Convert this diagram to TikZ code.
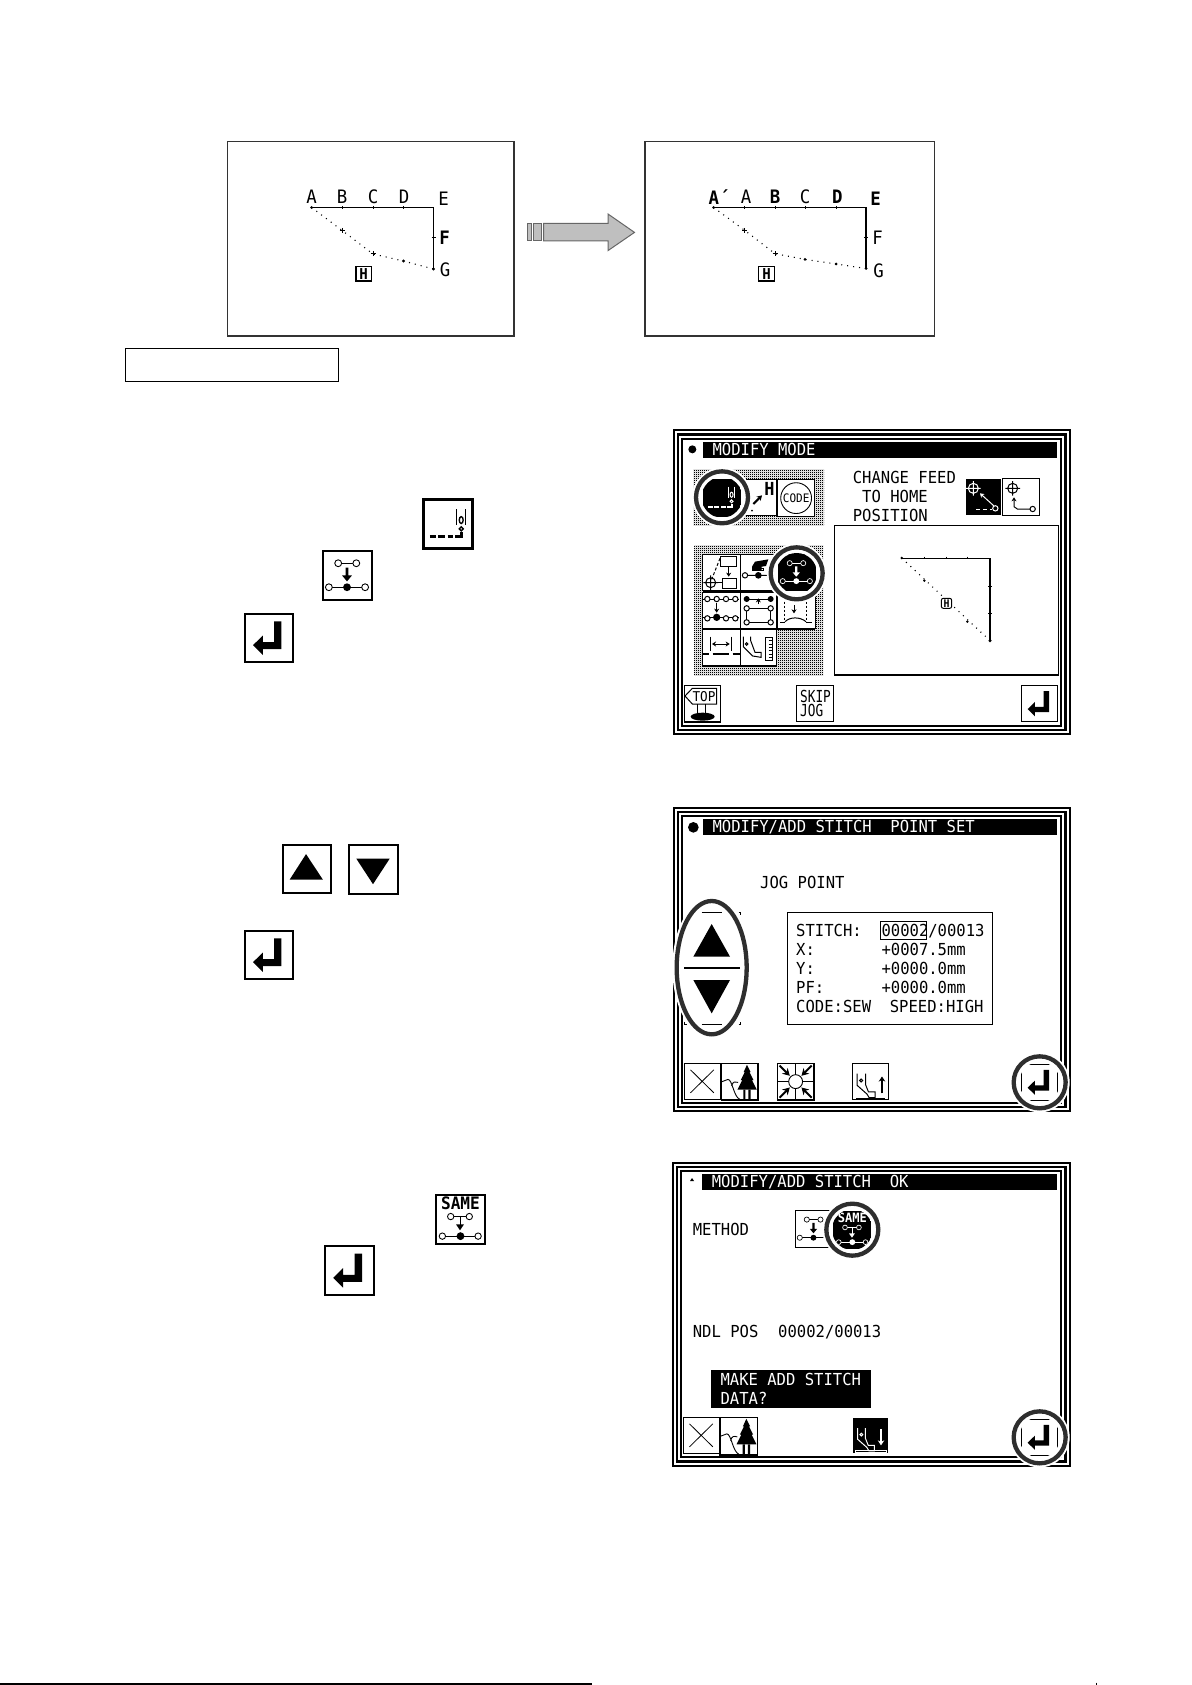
\documentclass[tikz,border=0pt]{standalone}
\usepackage{fontspec}
\newfontfamily\lcd[FakeStretch=0.94]{DejaVu Sans Mono}
\newfontfamily\lcdn[FakeStretch=0.77]{DejaVu Sans Mono}
\usetikzlibrary{arrows.meta,patterns}
\pgfdeclarepatternformonly{dith}{\pgfpointorigin}{\pgfqpoint{2pt}{2pt}}{\pgfqpoint{2pt}{2pt}}{%
 \pgfpathrectangle{\pgfpointorigin}{\pgfqpoint{1.12pt}{1.12pt}}%
 \pgfpathrectangle{\pgfqpoint{1pt}{1pt}}{\pgfqpoint{1.12pt}{1.12pt}}%
 \pgfusepath{fill}}
\tikzset{
 lcdtxt/.style={inner sep=0pt,anchor=base west,font=\lcd\fontsize{16.55}{18}\selectfont},
 lab/.style={inner sep=0pt,anchor=center,font=\lcd\fontsize{18.5}{20}\selectfont},
 labb/.style={inner sep=0pt,anchor=center,font=\lcd\bfseries\fontsize{18.5}{20}\selectfont},
 ln/.style={line width=1pt},
 ln2/.style={line width=1.6pt},
 ring/.style={line width=4.3pt,draw=black!82},
 dotpath/.style={line width=1.1pt,dash pattern=on 1pt off 5pt},
 dith/.style={pattern=dith,pattern color=black},
 arr/.style={-{Stealth[length=4pt,width=5pt]}},
 arrb/.style={-{Stealth[length=5pt,width=6.5pt]},line width=1.8pt},
 arrc/.style={-{Stealth[length=7pt,width=8pt]},line width=2pt},
}
\newcommand\LT[5][]{\node[lcdtxt,#1] (#2) at (#3,#4) {#5};}
% button: x y size lw fg bg glyph
\newcommand\Btn[7]{%
 \begin{scope}[shift={(#1,#2)},x=#3*0.01pt,y=-#3*0.01pt]
 \colorlet{fg}{#5}\colorlet{bg}{#6}
 \pgfmathsetmacro\ul{#3/50}
 \fill[bg] (0,0) rectangle (100,100);
 \ifdim #4pt>0pt \draw[black,line width=#4pt] (0,0) rectangle (100,100);\fi
 #7
 \end{scope}}
% circled button: cx cy boxx boxy size fg bg glyph
\newcommand\CBtn[8]{%
 \fill[white] (#1,#2) circle[radius=90];
 \begin{scope}\clip (#1,#2) circle[radius=61];
 \Btn{#3}{#4}{#5}{1.2}{#6}{#7}{#8}
 \end{scope}
 \draw[ring] (#1,#2) circle[radius=78];}
\newcommand\GEnter{\fill[fg] (60.7,15.3)--(76,15.3)--(76,73.3)--(37,73.3)--(37,85)--(16.7,65)--(37,45)--(37,58.7)--(60.7,58.7)--cycle;}
\newcommand\GNeedle{%
 \draw[fg,line width=2.7*\ul*1pt] (13,75)--(25,75) (30,75)--(44,75) (49,75)--(61,75) (65,75)--(77,75)--(77,66);
 \draw[fg,line width=1.4*\ul*1pt] (68,20)--(68,52) (86,20)--(86,52);
 \draw[fg,line width=1.4*\ul*1pt] (77,42) ellipse[x radius=4,y radius=7] (77,60) circle[radius=4];}
\newcommand\GAdd{%
 \draw[fg,line width=\ul*0.9pt] (31,25)--(68,25) (12,74)--(86,74);
 \fill[bg] (31,25) circle[radius=7] (68,25) circle[radius=7] (12,74) circle[radius=7] (86,74) circle[radius=7];
 \draw[fg,line width=\ul*0.9pt] (31,25) circle[radius=7] (68,25) circle[radius=7] (12,74) circle[radius=7] (86,74) circle[radius=7];
 \fill[fg] (49,74) circle[radius=8];
 \fill[fg] (46,34)--(52,34)--(52,50)--(59,50)--(49,62)--(39,50)--(46,50)--cycle;}
\newcommand\GSame{%
 \pgfmathsetmacro\fsz{17.5*\ul}
 \node[inner sep=0pt,text=fg,font=\lcd\bfseries\fontsize{\fsz pt}{\fsz pt}\selectfont] (samelabel) at (50,17) {SAME};
 \draw[fg,line width=\ul*0.9pt] (30,44)--(68,44) (13,84)--(86,84) (49,44)--(49,62);
 \fill[bg] (30,44) circle[radius=6.5] (68,44) circle[radius=6.5] (13,84) circle[radius=6.5] (86,84) circle[radius=6.5];
 \draw[fg,line width=\ul*0.9pt] (30,44) circle[radius=6.5] (68,44) circle[radius=6.5] (13,84) circle[radius=6.5] (86,84) circle[radius=6.5];
 \fill[fg] (50,84) circle[radius=8];
 \fill[fg] (41,60)--(57,60)--(49,72)--cycle;}
\newcommand\GUp{\fill[fg] (48,19)--(83,72)--(14,72)--cycle;}
\newcommand\GDown{\fill[fg] (15,28)--(83,28)--(49,80)--cycle;}
\newcommand\GX{\draw[fg,line width=0.8pt] (17,18)--(82,82) (82,18)--(17,82);}
\newcommand\GTree{%
 \fill[fg] (70,4)--(80,24)--(77,24)--(88,46)--(84,46)--(97,72)--(44,72)--(57,46)--(53,46)--(64,24)--(61,24)--cycle;
 \fill[fg] (60,72) rectangle (66,100) (74,72) rectangle (80,100);
 \draw[fg,line width=0.9pt] (2,50)--(18,44) .. controls (30,44) and (34,92) .. (50,98) (28,62) .. controls (32,48) and (38,50) .. (46,52);}
\newcommand\GConv{%
 \draw[fg,line width=0.9pt] (50,0)--(50,100) (0,50)--(100,50);
 \fill[bg] (50,50) circle[radius=19];
 \draw[fg,line width=0.9pt] (50,50) circle[radius=19];
 \draw[fg,arrc] (6,6)--(34,34);
 \draw[fg,arrc] (94,6)--(66,34);
 \draw[fg,arrc] (6,94)--(34,66);
 \draw[fg,arrc] (94,94)--(66,66);}
\newcommand\GFoot{%
 \draw[fg,line width=1pt] (13,28)--(13,60)--(40,84)--(46,94)--(62,94)--(62,78)--(44,78)--(36,58)--(36,28);
 \draw[fg,line width=1pt] (24,47) circle[radius=4];}
\newcommand\GFootUp{\GFoot
 \fill[fg] (10,94) rectangle (90,100);
 \draw[fg,arrb] (81,82)--(81,36);}
\newcommand\GFootDown{\GFoot
 \draw[fg,line width=0.9pt] (6,92) rectangle (96,98);
 \draw[fg,arrb] (81,32)--(81,78);}
\newcommand\Frame[4]{%
 \fill[black] (#1,#2) rectangle (#3,#4);
 \fill[white] (#1+6,#2+6) rectangle (#3-6,#4-6);
 \fill[black] (#1+12,#2+12) rectangle (#3-12,#4-12);
 \fill[white] (#1+19,#2+19) rectangle (#3-19,#4-19);
 \fill[black] (#1+25,#2+25) rectangle (#3-25,#4-25);
 \fill[white] (#1+31,#2+31) rectangle (#3-31,#4-31);}
\newcommand\Cross[2]{%
 \draw[ln] (#1,#2) circle[radius=15] (#1-22,#2)--(#1+22,#2) (#1,#2-22)--(#1,#2+22);}
\begin{document}
\begin{tikzpicture}[x=1pt,y=-1pt]
\useasboundingbox (0,0) rectangle (1191,1685);
\fill[white] (0,0) rectangle (1191,1685);
% --- top figure, left
\draw[line width=1.3pt,black!80] (227.5,141.5) rectangle (514,336);
\draw[line width=1.5pt] (311.6,207.5)--(433.5,207.5)--(433.5,269);
\draw[ln] (342,206)--(342,209.5) (373,206)--(373,209.5) (403.4,206)--(403.4,209.5) (431.5,238)--(435.5,238);
\draw[dotpath] (311.6,207.5)--(342,230.4)--(373,254)--(403.4,261)--(433.5,269);
\draw[ln] (339.5,230.4)--(344.5,230.4) (342,228)--(342,233) (370.5,254)--(375.5,254) (373,251.5)--(373,256.5);
\fill (403.4,261) circle[radius=1.6] (433.5,269) circle[radius=1.6] (311.6,207.5) circle[radius=1.6];
\node[lab] (la) at (311.6,197) {A};
\node[lab] (lb) at (342,197) {B};
\node[lab] (lc) at (373,197) {C};
\node[lab] (ld) at (404,197) {D};
\node[lab] (le) at (443.7,199) {E};
\node[labb] (lf) at (444.7,238) {F};
\node[lab] (lg) at (445,269.5) {G};
\draw[line width=1.4pt] (356,266.5) rectangle (371.5,281);
\node[inner sep=0pt,font=\lcd\bfseries\fontsize{15}{15}\selectfont] (lh) at (363.7,273.7) {H};
% --- top figure, right
\draw[line width=1.3pt,black!80] (645,141.5) rectangle (934.5,336);
\draw[line width=1.5pt] (713.6,207.5)--(866,207.5)--(866,268.5);
\draw[ln] (744.7,206)--(744.7,209.5) (775,206)--(775,209.5) (805,206)--(805,209.5) (836,206)--(836,209.5) (864,238)--(868,238);
\draw[dotpath] (713.6,207.5)--(744.7,230.4)--(775,253.7)--(805,259.4)--(836,264)--(866,268.5);
\draw[ln] (742.2,230.4)--(747.2,230.4) (744.7,228)--(744.7,233) (772.5,253.7)--(777.5,253.7) (775,251.2)--(775,256.2);
\fill (805,259.4) circle[radius=1.5] (836,264) circle[radius=1.5] (866,268.5) circle[radius=1.5] (713.6,207.5) circle[radius=1.5];
\node[labb,anchor=center] (ra) at (719,197) {A´};
\node[lab] (ra2) at (746,197) {A};
\node[labb] (rb) at (775,197) {B};
\node[lab] (rc) at (805,197) {C};
\node[labb] (rd) at (837.4,197) {D};
\node[labb] (re) at (875.7,198.5) {E};
\node[lab] (rf) at (877.7,238) {F};
\node[lab] (rg) at (878.6,270.5) {G};
\draw[line width=1.4pt] (758.5,266.5) rectangle (774.5,281);
\node[inner sep=0pt,font=\lcd\bfseries\fontsize{15}{15}\selectfont] (rh) at (766.5,273.7) {H};
% big arrow
\draw[black!60,fill=black!25,line width=1pt] (543.5,223.5)--(608,223.5)--(608,214)--(634.5,232.4)--(608,250.6)--(608,241)--(543.5,241)--cycle;
\draw[black!60,fill=black!25,line width=1pt] (527.7,223.5) rectangle (531,241) (533.8,223.5) rectangle (541,241);
% empty caption box
\draw[ln] (125,348.5) rectangle (338.5,381.5);
% --- side icons
\Btn{423.5}{499.5}{49}{2.4}{black}{white}{\GNeedle}
\Btn{323}{551}{49}{2.4}{black}{white}{\GAdd}
\Btn{245}{614}{48}{2.4}{black}{white}{\GEnter}
\Btn{283}{845}{48}{2.4}{black}{white}{\GUp}
\Btn{349}{845}{49}{2.4}{black}{white}{\GDown}
\Btn{245}{931}{48}{2.4}{black}{white}{\GEnter}
\Btn{436}{1195}{49}{2.4}{black}{white}{\GSame}
\Btn{325}{1246}{49}{2.4}{black}{white}{\GEnter}
% --- screen 1
\begin{scope}[shift={(660,420)},x=.33333pt,y=-.33333pt]
\Frame{38}{28}{1232}{945}
\fill (130,67) rectangle (1192,115);
\fill (97,88) circle[radius=12];
\LT[text=white]{s1t}{157}{107}{MODIFY~MODE}
\LT{s1a}{578}{190}{CHANGE~FEED}
\LT{s1b}{606}{247}{TO~HOME}
\LT{s1c}{578}{304}{POSITION}
% panels
\fill[dith] (100,148) rectangle (492,315);
\fill[dith] (102,376) rectangle (490,767);
% top row
\Btn{242}{178}{36.3}{1}{black}{white}{}
\draw[black,line width=2pt,-{Stealth[length=5pt,width=6pt]}] (280,252)--(306,226);
\node[inner sep=0pt,font=\lcd\bfseries\fontsize{18}{18}\selectfont] (s1h) at (328,208) {H};
\fill (276,272) circle[radius=3];
\Btn{352}{178}{37.6}{1}{black}{white}{%
 \draw[fg,line width=0.9pt] (50,50) circle[radius=41];
 \node[inner sep=0pt,font=\lcd\fontsize{11.7}{11}\selectfont] (s1code) at (50,50) {CODE};}
\CBtn{186}{232}{130}{178}{36.67}{white}{black}{\GNeedle}
% feed icons
\fill (918,178) rectangle (1023,285);
\begin{scope}[white]
\Cross{940}{205}
\draw[arr,ln] (1002,258)--(960,220);
\draw[ln,dash pattern=on 4pt off 3pt] (948,267)--(996,267);
\draw[ln] (1006,265) circle[radius=8];
\end{scope}
\draw[ln,fill=white] (1027,176) rectangle (1138,287);
\Cross{1058}{205}
\draw[ln,arr] (1110,267)--(1072,267)--(1062,260)--(1062,232);
\draw[ln] (1118,267) circle[radius=8];
% preview
\draw[ln,fill=white] (523,316) rectangle (1195,765);
\draw[line width=1.7pt] (523,765)--(1195,765);
\draw[ln] (725,414)--(990,414);
\draw[line width=1.5pt] (990,414)--(990,662);
\draw[ln] (793,410)--(793,418) (858,410)--(858,418) (922,410)--(922,418) (985,498)--(995,498) (985,580)--(995,580);
\draw[dotpath] (725,414)--(990,662);
\fill (725,414) circle[radius=4] (793,482) circle[radius=4] (922,605) circle[radius=4] (990,662) circle[radius=5];
\draw[ln,rounded corners=2pt,fill=white] (844,535) rectangle (875,565);
\node[inner sep=0pt,font=\lcd\bfseries\fontsize{10.5}{10}\selectfont] (s1hh) at (859.5,550) {H};
% grid buttons
\draw[ln,fill=white] (128,402) rectangle (240,512);
\draw[ln,fill=white] (242,402) rectangle (350,512);
\draw[ln,fill=white] (128,516) rectangle (240,625);
\draw[ln,fill=white] (242,516) rectangle (350,625);
\draw[ln,fill=white] (352,516) rectangle (465,625);
\draw[ln,fill=white] (128,628) rectangle (240,737);
\draw[ln,fill=white] (242,628) rectangle (350,737);
\draw[line width=1.6pt] (128,513.5)--(465,513.5) (128,626.5)--(465,626.5) (241,402)--(241,737) (128,738)--(350,738);
% r1c1
\draw[ln] (182,410) rectangle (230,440) (186,475) rectangle (230,505);
\draw[ln,arr] (206,440)--(206,470);
\draw[ln,dash pattern=on 3pt off 2pt] (180,415)--(155,478);
\Cross{152}{488}
\draw[ln] (174,488)--(186,488);
% r1c2
\draw[ln] (255,466) circle[radius=8] (263,466)--(330,466);
\fill (295,466) circle[radius=10];
\fill (285,425)--(325,418)--(318,438)--(305,440)--(305,452)--(276,452)--(276,440)--cycle;
\draw[ln] (276,445) rectangle (310,452);
% r2c1
\draw[ln] (128,537)--(238,537) (128,592)--(238,592);
\foreach \xx in {142,170,198,226}{\fill[white] (\xx,537) circle[radius=8];\draw[ln] (\xx,537) circle[radius=8];}
\foreach \xx in {142,198,226}{\fill[white] (\xx,595) circle[radius=8];\draw[ln] (\xx,595) circle[radius=8];}
\fill (170,592) circle[radius=11];
\draw[ln,arr] (170,548)--(170,578);
% r2c2
\draw[ln] (260,537)--(332,537);
\fill (260,537) circle[radius=9] (332,537) circle[radius=9];
\draw[ln2,arr] (295,552)--(295,535);
\draw[ln] (260,565)--(332,565) (260,565)--(260,607) (332,565)--(332,607);
\draw[line width=1.5pt] (260,607)--(332,607);
\foreach \xx/\yy in {260/565,332/565,260/607,332/607}{\fill[white] (\xx,\yy) circle[radius=8];\draw[ln] (\xx,\yy) circle[radius=8];}
% r2c3
\draw[ln,dash pattern=on 2pt off 2pt] (373,545)--(373,600) (440,545)--(440,600);
\draw[ln,arr] (402,555)--(402,580);
\draw[ln] (375,605) .. controls (390,590) and (420,590) .. (438,605);
\draw[line width=1.6pt] (360,607)--(375,607) (438,607)--(456,607);
% r3c1
\draw[ln] (152,650)--(152,692) (213,650)--(213,692);
\draw[ln,{Stealth[length=4pt,width=5pt]}-{Stealth[length=4pt,width=5pt]}] (156,672)--(209,672);
\draw[line width=2pt] (128,703)--(148,703) (158,703)--(208,703) (218,703)--(240,703);
% r3c2
\draw[ln] (250,650)--(250,680)--(278,708)--(303,712)--(303,697)--(285,697)--(272,662)--(272,650);
\draw[ln] (260,672) circle[radius=4];
\draw[ln] (315,652) rectangle (338,720);
\foreach \yy in {662,672,682,692,702,712}{\draw[ln] (326,\yy)--(338,\yy);}
\CBtn{410}{460}{355}{402}{36.67}{white}{black}{\GAdd}
% bottom
\Btn{73}{797}{36.3}{1.2}{black}{white}{}
\draw[ln] (97,805)--(170,805)--(170,852)--(97,852)--(75,828)--cycle;
\node[inner sep=0pt,lcdtxt,anchor=center,font=\lcd\fontsize{13.5}{13}\selectfont] (s1top) at (132,829) {TOP};
\draw[ln] (112,852)--(112,885) (135,852)--(135,885);
\fill (128,890) ellipse[x radius=36,y radius=12];
\draw[ln] (409,797) rectangle (521,905);
\LT[font=\lcdn\fontsize{16.55}{18}\selectfont]{s1s}{420}{848}{SKIP}
\LT[font=\lcdn\fontsize{16.55}{18}\selectfont]{s1j}{420}{889}{JOG}
\Btn{1085}{797}{36}{1.3}{black}{white}{\GEnter}
\end{scope}
% --- screen 2
\begin{scope}[shift={(660,800)},x=.33333pt,y=-.33333pt]
\Frame{38}{20}{1232}{937}
\fill (130,57) rectangle (1192,105);
\fill (100,82) circle[radius=16];
\LT[text=white]{s2t}{157}{98}{MODIFY/ADD~STITCH~~POINT~SET}
\LT{s2j}{300}{266}{JOG~POINT}
\draw[ln] (382,337) rectangle (998,673);
\draw[ln] (662,365) rectangle (800,418);
\LT{s2a}{408}{410}{STITCH:}
\LT{s2a2}{664}{410}{00002/00013}
\LT{s2b}{408}{466}{X:}
\LT{s2b2}{664}{466}{+0007.5mm}
\LT{s2c}{408}{523}{Y:}
\LT{s2c2}{664}{523}{+0000.0mm}
\LT{s2d}{408}{580}{PF:}
\LT{s2d2}{664}{580}{+0000.0mm}
\LT{s2e}{408}{636}{CODE:SEW~~SPEED:HIGH}
\Btn{73}{790}{36}{1.3}{black}{white}{\GX}
\Btn{184}{790}{36.6}{1.3}{black}{white}{\GTree}
\Btn{352}{790}{36.6}{1.3}{black}{white}{\GConv}
\Btn{577}{790}{36.6}{1}{black}{white}{\GFootUp}
\CBtn{1139}{847}{1085}{793}{36}{black}{white}{\GEnter}
% ellipse
\fill[white] (155,503) ellipse[x radius=118,y radius=212];
\draw[ring] (155,503) ellipse[x radius=105,y radius=200];
\fill (155,372)--(210,470)--(100,470)--cycle;
\fill (100,540)--(210,540)--(155,640)--cycle;
\draw[line width=1.7pt] (73,505)--(240,505);
\draw[ln] (125,337)--(185,337) (125,673)--(185,673) (236,337)--(240,337)--(240,345) (236,673)--(240,673)--(240,665) (73,665)--(73,673)--(80,673);
\end{scope}
% --- screen 3
\begin{scope}[shift={(660,1155)},x=.33333pt,y=-.33333pt]
\Frame{35}{20}{1232}{935}
\fill (127,57) rectangle (1192,105);
\fill (96,69)--(102,78)--(90,78)--cycle;
\LT[text=white]{s3t}{155}{98}{MODIFY/ADD~STITCH~~OK}
\LT{s3m}{98}{240}{METHOD}
\LT{s3n}{98}{548}{NDL~POS}
\LT{s3n2}{354}{548}{00002/00013}
\Btn{406}{166}{37}{1}{black}{white}{\GAdd}
\CBtn{577}{224}{522}{169}{36.67}{white}{black}{\GSame}
\fill (153,645) rectangle (633,758);
\LT[text=white]{s3k}{181}{690}{MAKE~ADD~STITCH}
\LT[text=white]{s3l}{181}{747}{DATA?}
\Btn{70}{787}{36}{1.3}{black}{white}{\GX}
\Btn{180}{787}{37.6}{1.3}{black}{white}{\GTree}
\Btn{579}{790}{34.6}{0}{white}{black}{\GFootDown}
\CBtn{1139}{847}{1085}{793}{36}{black}{white}{\GEnter}
\end{scope}
% bottom rule
\draw[line width=1.2pt] (0,1684)--(592,1684);
\draw[line width=.7pt] (1096,1682.5)--(1096,1685);
\end{tikzpicture}
\end{document}
